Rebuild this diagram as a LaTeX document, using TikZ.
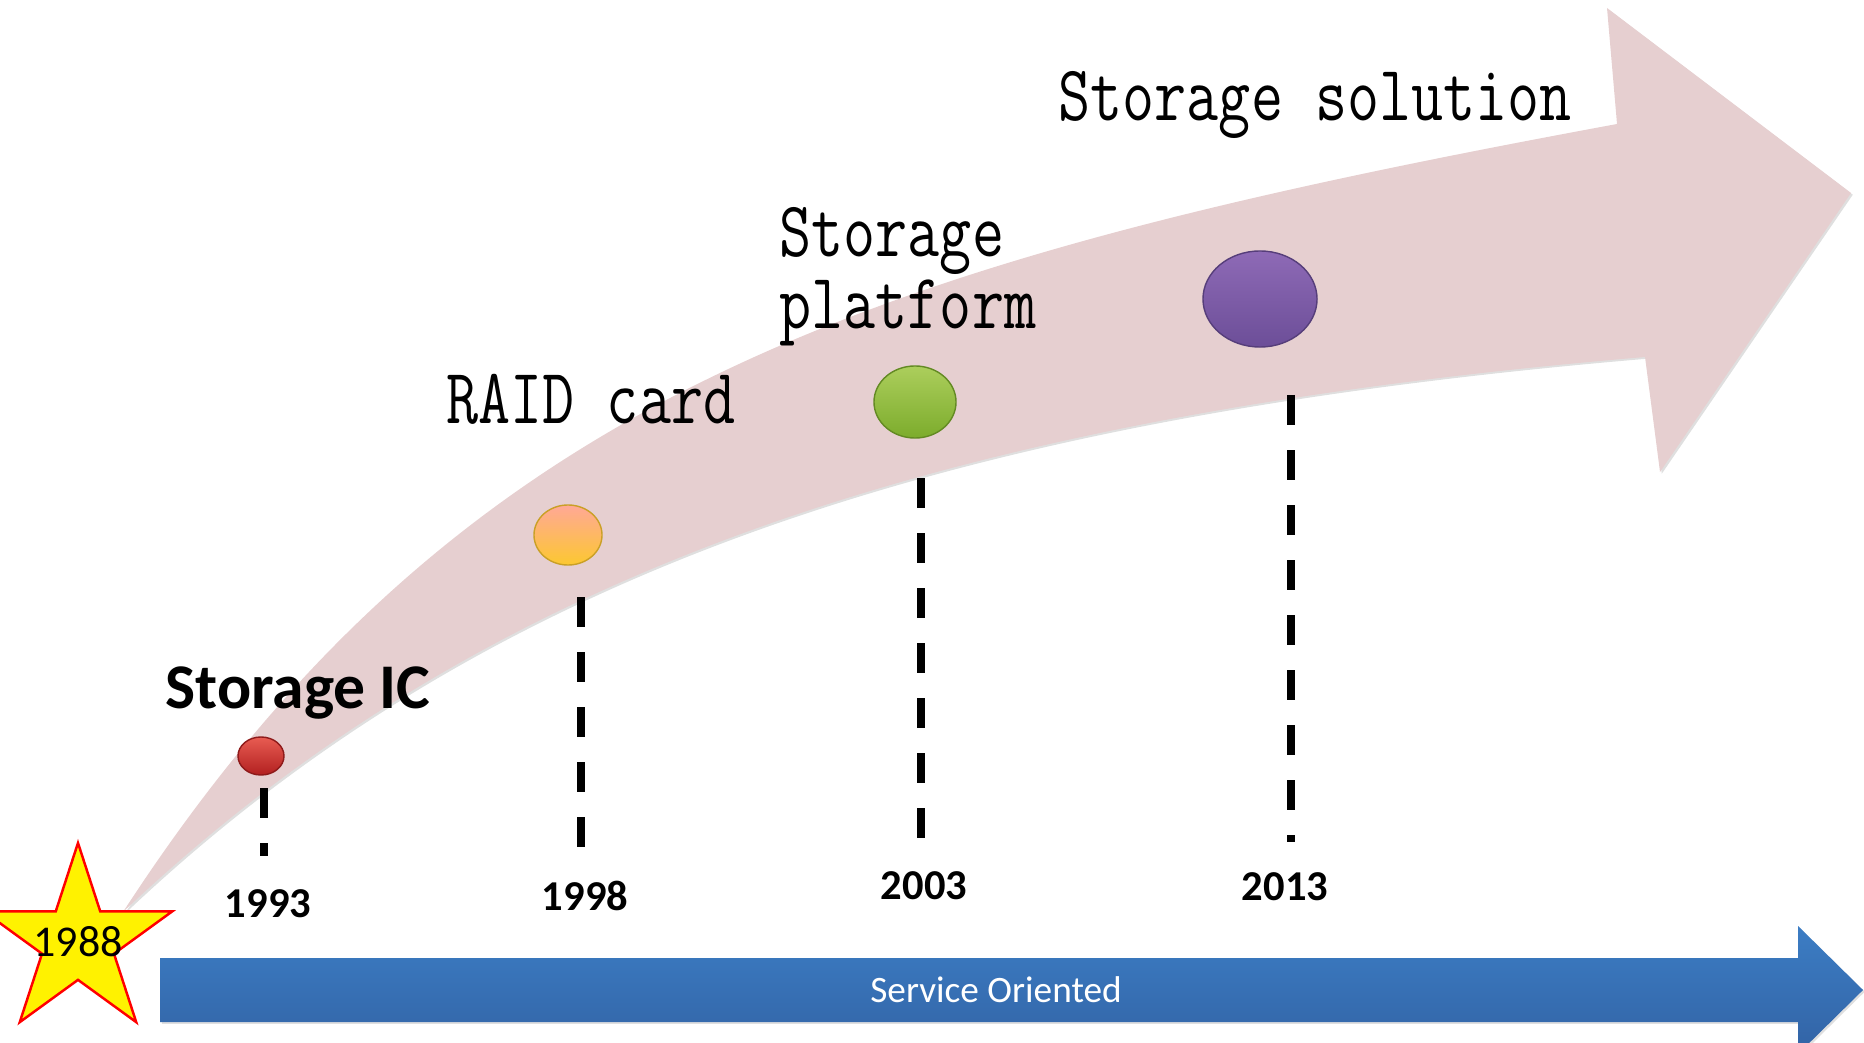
\documentclass[tikz,border=0pt]{standalone}
\usepackage{fontspec}
\newfontfamily\calib{Carlito}
\usetikzlibrary{shapes.geometric,shadows}
\definecolor{bandpink}{RGB}{230,207,208}
\definecolor{blueTop}{RGB}{60,125,196}
\definecolor{blueBot}{RGB}{50,99,165}
\definecolor{redTop}{RGB}{232,92,82}
\definecolor{redBot}{RGB}{178,32,32}
\definecolor{orgTop}{RGB}{255,168,150}
\definecolor{orgBot}{RGB}{252,200,48}
\definecolor{grnTop}{RGB}{172,206,92}
\definecolor{grnBot}{RGB}{124,172,44}
\definecolor{purTop}{RGB}{142,106,182}
\definecolor{purBot}{RGB}{108,78,152}
\tikzset{
  stage/.style={font=\ttfamily\fontsize{22.4}{20.5}\selectfont, inner sep=0pt, anchor=base west},
  iclbl/.style={font=\calib\bfseries\fontsize{18.1}{21}\selectfont, inner sep=0pt, anchor=base},
  yearlbl/.style={font=\calib\bfseries\fontsize{12.1}{14}\selectfont, inner sep=0pt, anchor=base},
  leader/.style={line width=0.075cm, dash pattern=on 0.3cm off 0.25cm},
  ball/.style 2 args={ellipse, inner sep=0pt, top color=#1, bottom color=#2, draw=#2!80!black, line width=0.4pt},
}
\newcommand{\narrow}[1]{\scalebox{0.79}[1]{#1}}
\begin{document}
\begin{tikzpicture}[x=0.01cm,y=-0.01cm]
  \useasboundingbox (0,0) rectangle (1864,1043);
  % Growth arrow
  \fill[bandpink, drop shadow={opacity=0.25, shadow xshift=0.5pt, shadow yshift=-0.5pt}]
    (123,912) .. controls (461,392) and (869,262) .. (1617,124) -- (1607,8) -- (1851,193)
    -- (1660,472) -- (1645,357) .. controls (947,416) and (486,568) .. (123,912) -- cycle;
  % Service arrow
  \shade[top color=blueTop, bottom color=blueBot, drop shadow={opacity=0.25, shadow xshift=0.5pt, shadow yshift=-0.5pt}]
    (160,958) -- (1798,958) -- (1798,926) -- (1863,990) -- (1798,1054) -- (1798,1022) -- (160,1022) -- cycle;
  \node[font=\calib\fontsize{10.6}{13}\selectfont, text=white, inner sep=0pt, anchor=base] (svc) at (996,1002) {Service Oriented};
  % Start star
  \node[star, star points=5, star point ratio=2.618, minimum size=1.98cm, inner sep=0pt, fill=yellow, draw=red, line width=0.7pt] (st88) at (78,942) {};
  \node[font=\calib\fontsize{12.5}{14}\selectfont, inner sep=0pt] (y1988) at (st88.center) {1988};
  % Leaders
  \coordinate (t1993) at (264,788); \coordinate (e1993) at (264,856);
  \coordinate (t1998) at (581,597); \coordinate (e1998) at (581,850);
  \coordinate (t2003) at (921,478); \coordinate (e2003) at (921,838);
  \coordinate (t2013) at (1291,395); \coordinate (e2013) at (1291,842);
  \draw[leader] (t1993) -- (e1993);
  \draw[leader] (t1998) -- (e1998);
  \draw[leader] (t2003) -- (e2003);
  \draw[leader] (t2013) -- (e2013);
  % Milestones
  \node[ball={redTop}{redBot}, minimum width=0.46cm, minimum height=0.38cm] (b1993) at (261,756) {};
  \node[ball={orgTop}{orgBot}, minimum width=0.68cm, minimum height=0.60cm] (b1998) at (568,535) {};
  \node[ball={grnTop}{grnBot}, minimum width=0.82cm, minimum height=0.72cm] (b2003) at (915,402) {};
  \node[ball={purTop}{purBot}, minimum width=1.14cm, minimum height=0.96cm] (b2013) at (1260,299) {};
  % Years
  \node[yearlbl] (y1993) at (268,917) {1993};
  \node[yearlbl] (y1998) at (585,910) {1998};
  \node[yearlbl] (y2003) at (924,899) {2003};
  \node[yearlbl] (y2013) at (1285,900) {2013};
  % Stages
  \node[iclbl] (lic) at (298,708) {Storage IC};
  \node[stage] (lraid) at (446,423) {\narrow{RAID card}};
  \node[stage, anchor=north west, align=left] (lplat) at (779,207) {\narrow{Storage}\\\narrow{platform}};
  \node[stage] (lsol) at (1058,121) {\narrow{Storage solution}};
\end{tikzpicture}
\end{document}
